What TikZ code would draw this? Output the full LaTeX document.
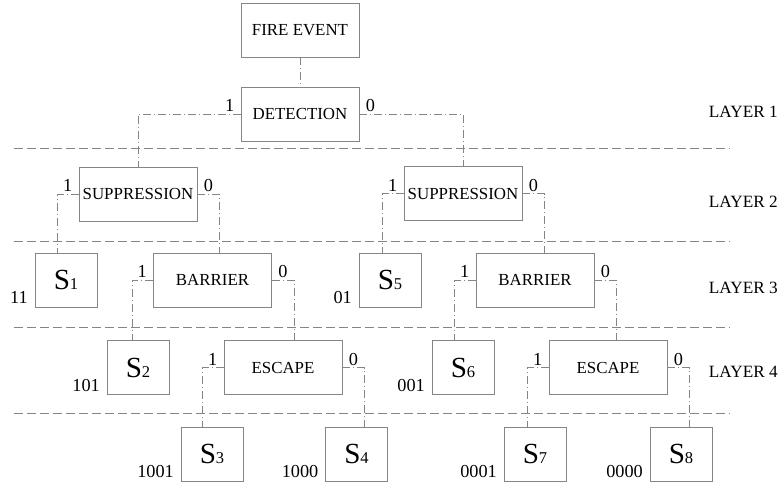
\documentclass[tikz,border=0pt]{standalone}
\usepackage{fontspec}
\setmainfont{Liberation Serif}
\usetikzlibrary{calc}
\definecolor{linegray}{gray}{0.52}
\tikzset{
  evbox/.style={
    draw=linegray,
    line width=0.55pt,
    minimum width=2.36cm,
    minimum height=1.08cm,
    inner sep=0pt,
    align=center,
    font=\fontsize{9.6}{11}\selectfont
  },
  sbox/.style={evbox, minimum width=1.24cm},
  link/.style={draw=linegray, line width=0.45pt,
    dash pattern=on 4.5pt off 1.7pt on 0.6pt off 1.7pt},
  layerline/.style={draw=linegray, line width=0.5pt, dash pattern=on 5pt off 2.4pt},
  bit/.style={inner xsep=3.4pt, inner ysep=1pt, font=\fontsize{10.4}{12}\selectfont},
  code/.style={inner xsep=3.6pt, inner ysep=1.8pt, font=\fontsize{10.4}{12}\selectfont},
  layer/.style={anchor=east, inner sep=0pt, font=\fontsize{9.8}{11}\selectfont}
}
\newcommand{\Sst}[1]{{\fontsize{16.6}{17}\selectfont S}{\fontsize{9.4}{10}\selectfont #1}}
\newcommand{\branch}[3]{%
  \draw[link] (#1.west) -- ++(-0.42,0) coordinate (#1l) -- (#1l |- #2.north);
  \draw[link] (#1.east) -- ++(0.44,0) coordinate (#1r) -- (#1r |- #3.north);
  \node[bit, anchor=south east] at (#1.west) {1};
  \node[bit, anchor=south west] at (#1.east) {0};}
\newcommand{\outcome}[4]{%
  \node[sbox] (#1) at (#2) {\Sst{#3}};
  \node[code, anchor=south east] at (#1.south west) {#4};}

\begin{document}
\begin{tikzpicture}
  \useasboundingbox (0,0) rectangle (15.6,9.66);
  % layers
  \foreach \y in {6.70,4.84,3.12,1.40}
    \draw[layerline] (0.28,\y) -- (14.6,\y);
  \node[layer] (lay1) at (15.56,7.42) {LAYER 1};
  \node[layer] (lay2) at (15.56,5.62) {LAYER 2};
  \node[layer] (lay3) at (15.56,3.90) {LAYER 3};
  \node[layer] (lay4) at (15.56,2.22) {LAYER 4};
  % barriers
  \node[evbox] (fire) at (6.0,9.06) {FIRE EVENT};
  \node[evbox] (det)  at (6.0,7.38) {DETECTION};
  \node[evbox] (supL) at (2.76,5.78) {SUPPRESSION};
  \node[evbox] (supR) at (9.26,5.79) {SUPPRESSION};
  \node[evbox] (barL) at (4.25,4.06) {BARRIER};
  \node[evbox] (barR) at (10.7,4.06) {BARRIER};
  \node[evbox] (escL) at (5.66,2.31) {ESCAPE};
  \node[evbox] (escR) at (12.16,2.31) {ESCAPE};
  % end states
  \outcome{s1}{1.32,4.06}{1}{11}
  \outcome{s5}{7.8,4.06}{5}{01}
  \outcome{s2}{2.76,2.31}{2}{101}
  \outcome{s6}{9.26,2.31}{6}{001}
  \outcome{s3}{4.24,0.58}{3}{1001}
  \outcome{s4}{7.13,0.58}{4}{1000}
  \outcome{s7}{10.7,0.58}{7}{0001}
  \outcome{s8}{13.62,0.58}{8}{0000}
  % connectors
  \draw[link] (fire) -- (det);
  \draw[link] (det.west) -| (supL.north);
  \draw[link] (det.east) -| (supR.north);
  \node[bit, anchor=south east] at (det.west) {1};
  \node[bit, anchor=south west] at (det.east) {0};
  \branch{supL}{s1}{barL}
  \branch{supR}{s5}{barR}
  \branch{barL}{s2}{escL}
  \branch{barR}{s6}{escR}
  \branch{escL}{s3}{s4}
  \branch{escR}{s7}{s8}
\end{tikzpicture}
\end{document}
